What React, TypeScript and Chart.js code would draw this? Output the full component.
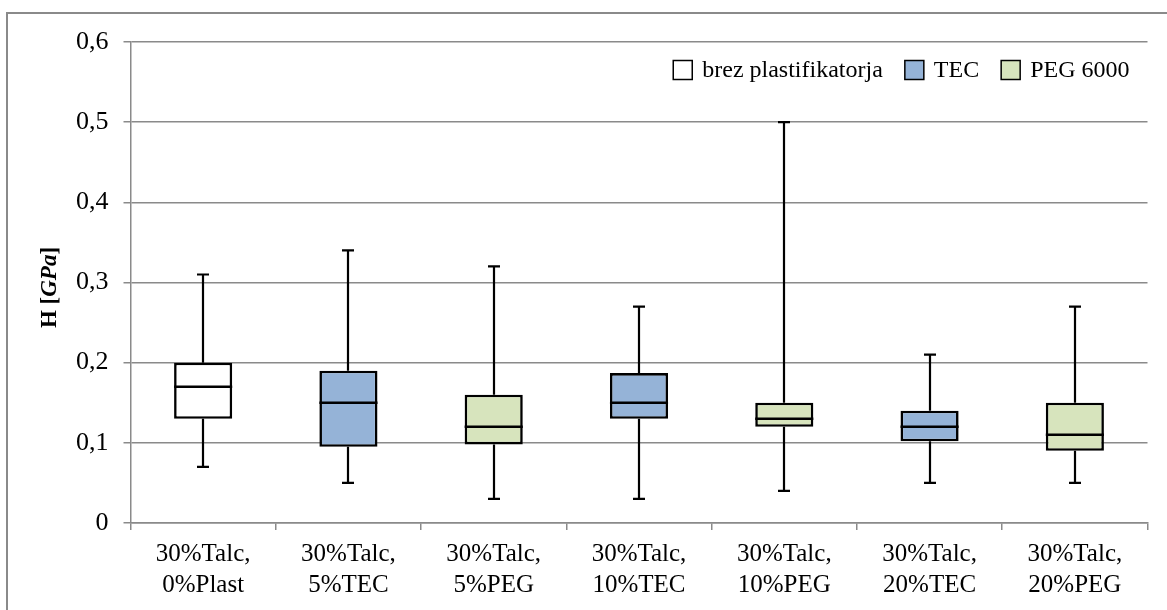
import React, { useEffect, useRef } from "react";
import { Chart, registerables } from "chart.js";

Chart.register(...registerables);

// Categories (two-line labels)
const categories: string[][] = [
  ["30%Talc,", "0%Plast"],
  ["30%Talc,", "5%TEC"],
  ["30%Talc,", "5%PEG"],
  ["30%Talc,", "10%TEC"],
  ["30%Talc,", "10%PEG"],
  ["30%Talc,", "20%TEC"],
  ["30%Talc,", "20%PEG"],
];

// Box plot statistics, H in GPa
const whiskerMin = [0.07, 0.05, 0.03, 0.03, 0.04, 0.05, 0.05];
const q1 = [0.13, 0.095, 0.098, 0.13, 0.12, 0.102, 0.09];
const median = [0.17, 0.15, 0.12, 0.15, 0.13, 0.12, 0.11];
const q3 = [0.2, 0.19, 0.16, 0.187, 0.15, 0.14, 0.15];
const whiskerMax = [0.31, 0.34, 0.32, 0.27, 0.5, 0.21, 0.27];

// Plasticizer group of each category
const groups = [0, 1, 2, 1, 2, 1, 2];
const groupNames = ["brez plastifikatorja", "TEC", "PEG 6000"];
const groupColors = ["#ffffff", "#95b3d7", "#d7e4bd"];

const yTicks = [0, 0.1, 0.2, 0.3, 0.4, 0.5, 0.6];

const SERIF = "'Liberation Serif', 'Times New Roman', serif";

const whiskerPlugin = {
  id: "whiskers",
  afterDatasetsDraw(chart: any) {
    const ctx = chart.ctx;
    const y = chart.scales.y;
    const meta = chart.getDatasetMeta(0);
    ctx.save();
    ctx.strokeStyle = "#000";
    meta.data.forEach((bar: any, i: number) => {
      const x = Math.round(bar.x);
      const w = bar.width;
      const yMax = y.getPixelForValue(whiskerMax[i]);
      const yMin = y.getPixelForValue(whiskerMin[i]);
      const yQ3 = y.getPixelForValue(q3[i]);
      const yQ1 = y.getPixelForValue(q1[i]);
      const yMed = y.getPixelForValue(median[i]);
      ctx.lineWidth = 2.2;
      ctx.beginPath();
      ctx.moveTo(x, yQ3);
      ctx.lineTo(x, yMax);
      ctx.moveTo(x, yQ1);
      ctx.lineTo(x, yMin);
      // caps
      ctx.moveTo(x - 6, yMax);
      ctx.lineTo(x + 6, yMax);
      ctx.moveTo(x - 6, yMin);
      ctx.lineTo(x + 6, yMin);
      ctx.stroke();
      ctx.lineWidth = 2.6;
      ctx.beginPath();
      ctx.moveTo(bar.x - w / 2, yMed);
      ctx.lineTo(bar.x + w / 2, yMed);
      ctx.stroke();
    });
    ctx.restore();
  },
};

const legendPlugin = {
  id: "insideLegend",
  afterDraw(chart: any) {
    const ctx = chart.ctx;
    const area = chart.chartArea;
    ctx.save();
    ctx.font = `24px ${SERIF}`;
    ctx.textBaseline = "middle";
    const box = 19;
    const gap = 10;
    const itemGap = 22;
    const cy = 70;
    let right = area.right - 18;
    for (let i = groupNames.length - 1; i >= 0; i--) {
      const tw = ctx.measureText(groupNames[i]).width;
      const tx = right - tw;
      const bx = tx - gap - box;
      ctx.fillStyle = groupColors[i];
      ctx.fillRect(bx, cy - box / 2, box, box);
      ctx.lineWidth = 1.5;
      ctx.strokeStyle = "#000";
      ctx.strokeRect(bx, cy - box / 2, box, box);
      ctx.fillStyle = "#000";
      ctx.fillText(groupNames[i], tx, cy + 1);
      right = bx - itemGap;
    }
    ctx.restore();
  },
};

const axisTitlePlugin = {
  id: "yTitle",
  afterDraw(chart: any) {
    const ctx = chart.ctx;
    const area = chart.chartArea;
    ctx.save();
    ctx.translate(50, (area.top + area.bottom) / 2 + 5);
    ctx.rotate(-Math.PI / 2);
    ctx.fillStyle = "#000";
    ctx.textBaseline = "middle";
    const parts: [string, string][] = [
      ["H [", `bold 23px ${SERIF}`],
      ["GPa", `italic bold 23px ${SERIF}`],
      ["]", `bold 23px ${SERIF}`],
    ];
    let total = 0;
    parts.forEach(([t, f]) => {
      ctx.font = f;
      total += ctx.measureText(t).width;
    });
    let x = -total / 2;
    parts.forEach(([t, f]) => {
      ctx.font = f;
      ctx.fillText(t, x, 0);
      x += ctx.measureText(t).width;
    });
    ctx.restore();
  },
};

export default function App() {
  const ref = useRef<HTMLCanvasElement>(null);

  useEffect(() => {
    if (!ref.current) return;
    const chart = new Chart(ref.current, {
      type: "bar",
      data: {
        labels: categories,
        datasets: [
          {
            label: "IQR",
            data: q1.map((v, i) => [v, q3[i]]),
            backgroundColor: groups.map((g) => groupColors[g]),
            borderColor: "#000",
            borderWidth: 2.6,
            borderSkipped: false,
            barPercentage: 0.4,
            categoryPercentage: 1,
          },
        ],
      },
      options: {
        animation: false,
        responsive: false,
        devicePixelRatio: 1,
        layout: { padding: { left: 0, top: 42, right: 19.5, bottom: 0 } },
        plugins: {
          legend: { display: false },
          tooltip: { enabled: false },
        },
        scales: {
          x: {
            offset: true,
            grid: {
              offset: true,
              drawOnChartArea: false,
              color: "#8a8a8a",
              lineWidth: 1.5,
              tickLength: 7,
            },
            border: { color: "#8a8a8a", width: 1.5 },
            ticks: {
              color: "#000",
              font: { family: SERIF, size: 25, lineHeight: 1.25 },
              padding: 9,
              maxRotation: 0,
              autoSkip: false,
            },
            afterFit(scale: any) {
              scale.height = 87;
            },
          },
          y: {
            min: 0,
            max: 0.6,
            afterBuildTicks(scale: any) {
              scale.ticks = yTicks.map((v) => ({ value: v }));
            },
            grid: {
              color: "#8a8a8a",
              lineWidth: 1.5,
              tickLength: 7,
            },
            border: { color: "#8a8a8a", width: 1.5 },
            ticks: {
              color: "#000",
              font: { family: SERIF, size: 26 },
              padding: 15,
              callback: (v: any) =>
                Number(v) === 0 ? "0" : Number(v).toFixed(1).replace(".", ","),
            },
            afterFit(scale: any) {
              scale.width = 130.5;
            },
          },
        },
      },
      plugins: [whiskerPlugin, legendPlugin, axisTitlePlugin],
    });
    return () => chart.destroy();
  }, []);

  return (
    <div
      style={{
        position: "fixed",
        left: 0,
        top: 0,
        width: 1167,
        height: 610,
        overflow: "hidden",
        background: "#fff",
      }}
    >
      <div
        style={{
          position: "absolute",
          left: 6,
          top: 12,
          width: 1180,
          height: 620,
          border: "2px solid #8a8a8a",
          boxSizing: "border-box",
        }}
      />
      <canvas
        ref={ref}
        width={1167}
        height={610}
        style={{ position: "absolute", left: 0, top: 0, width: 1167, height: 610 }}
      />
    </div>
  );
}
